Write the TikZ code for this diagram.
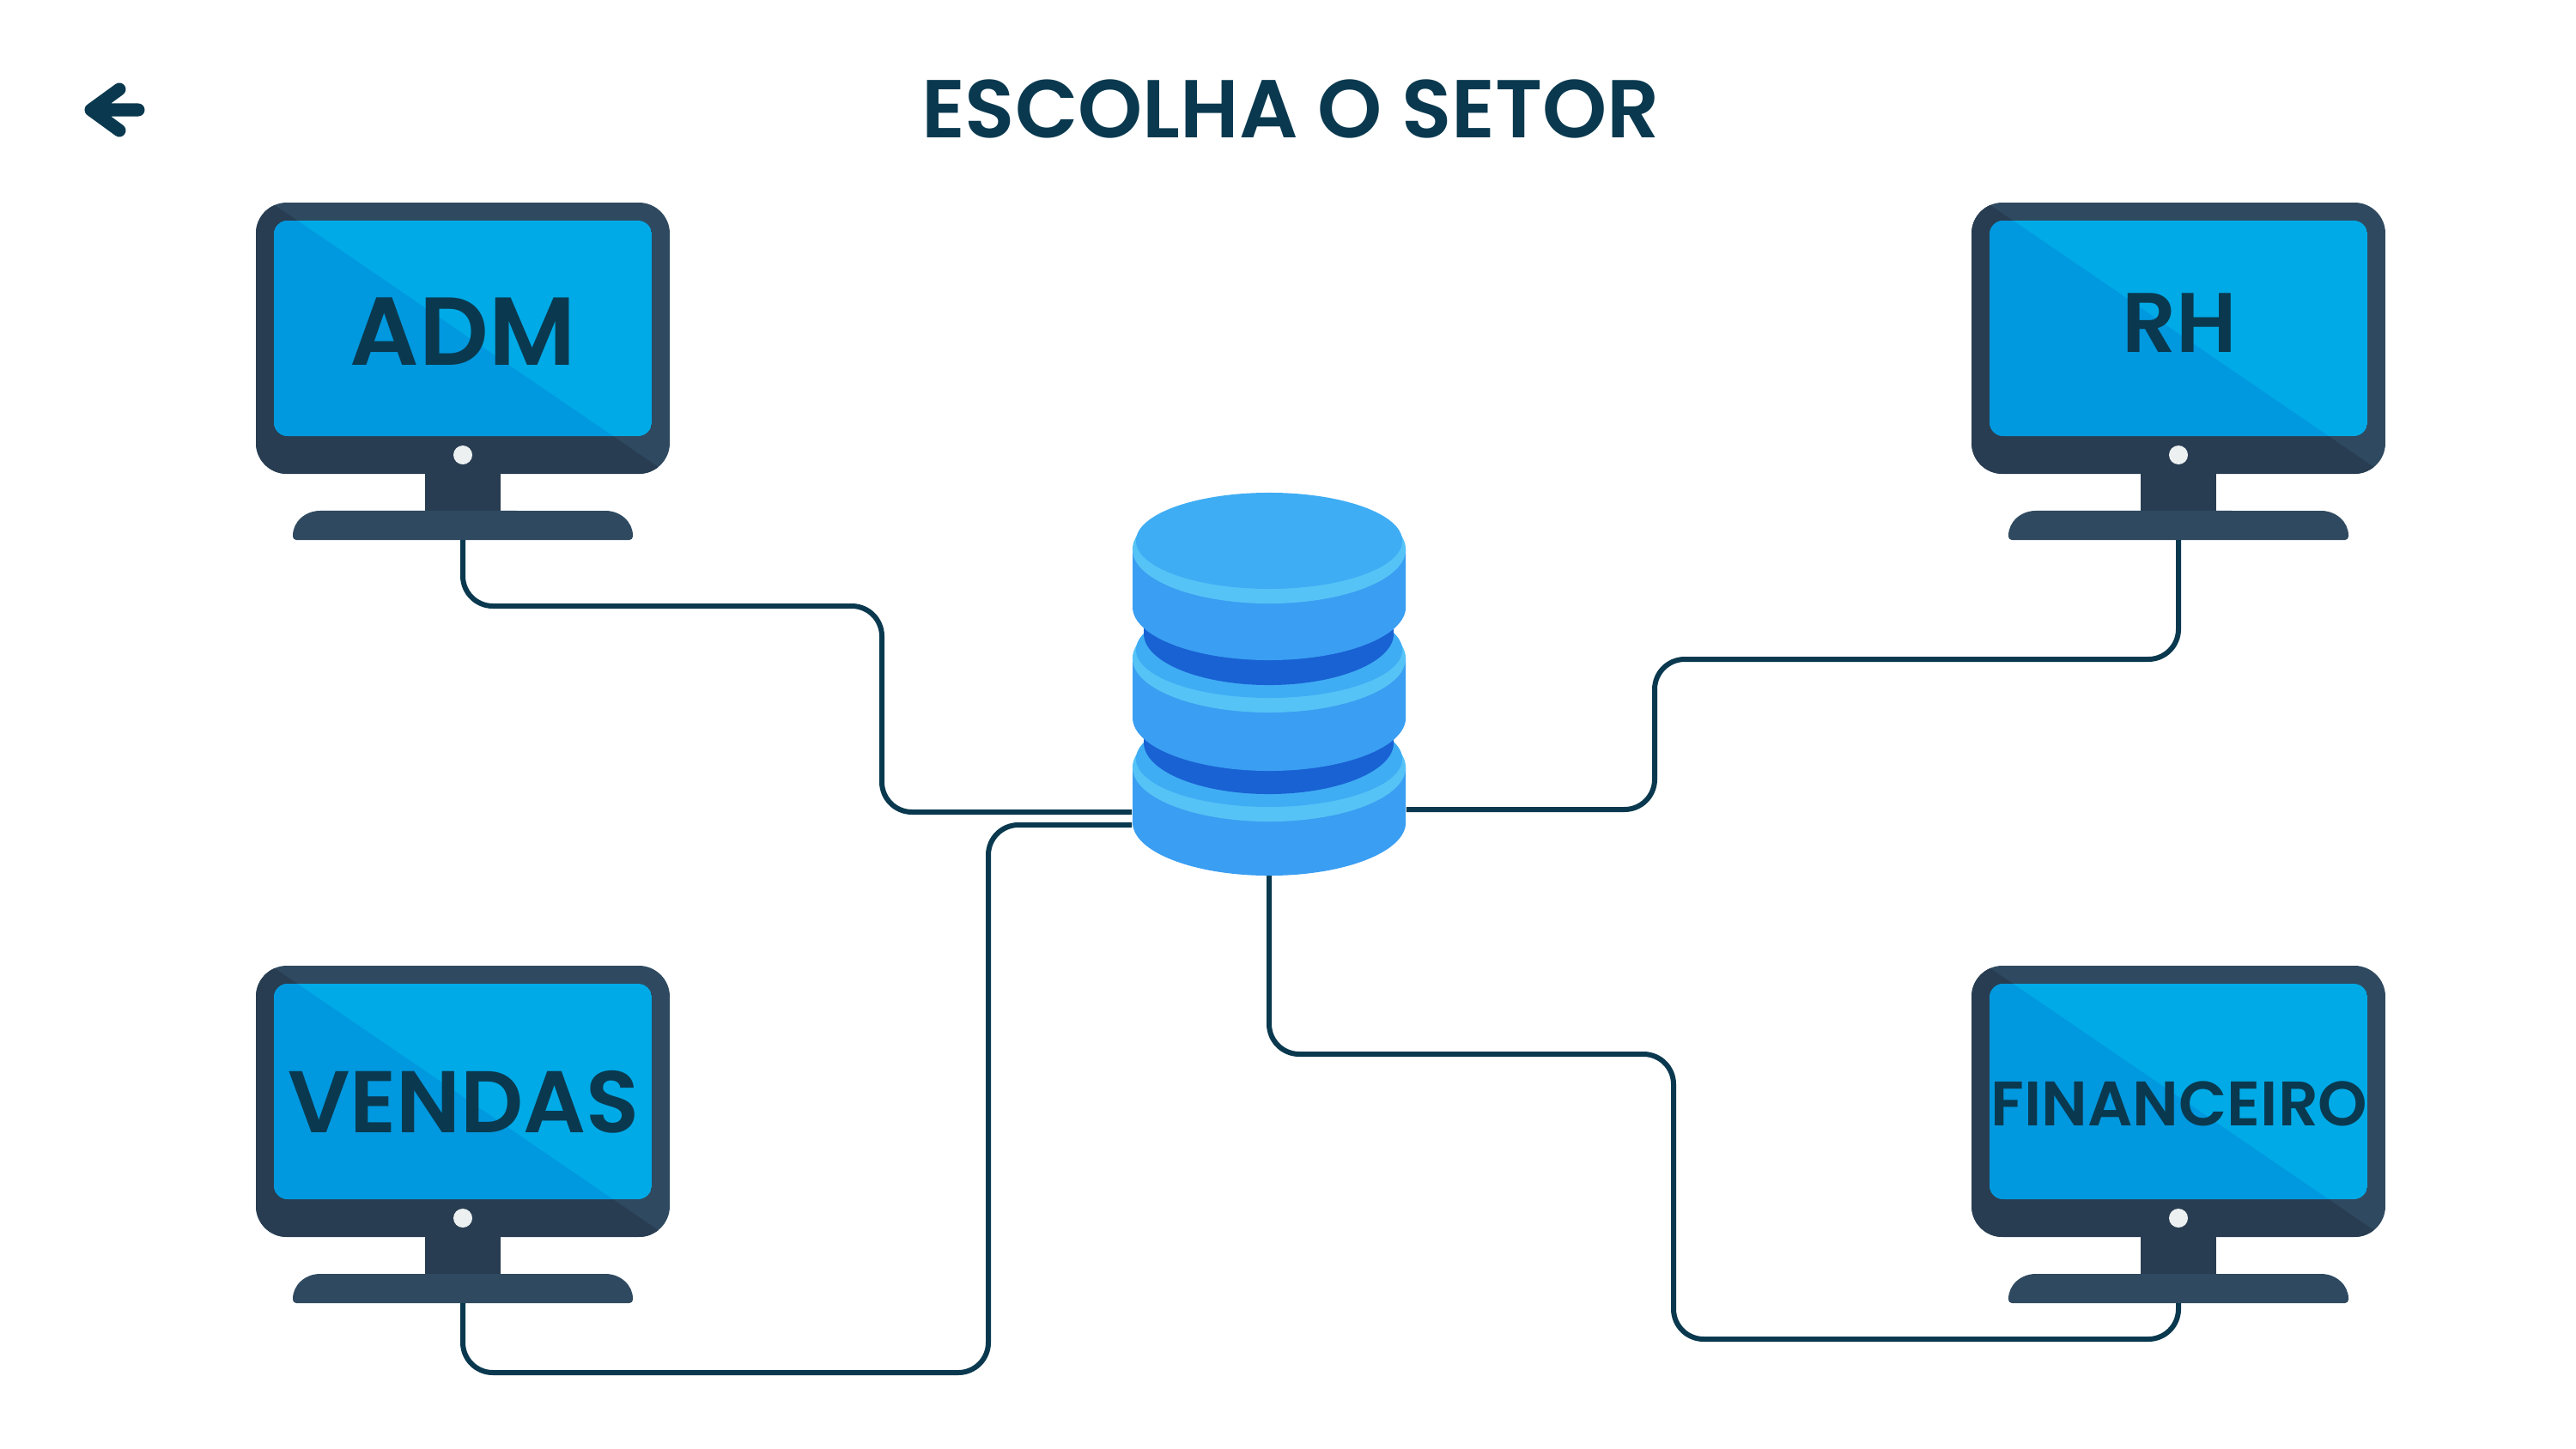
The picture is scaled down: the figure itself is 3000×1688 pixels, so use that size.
\documentclass[tikz,border=0pt]{standalone}
\usepackage{fontspec}
\setmainfont{Poppins}[BoldFont={Poppins SemiBold}]
\usetikzlibrary{positioning,calc}
\definecolor{inkblue}{RGB}{10,57,79}
\definecolor{framelight}{RGB}{47,74,96}
\definecolor{framedark}{RGB}{40,61,81}
\definecolor{screenlight}{RGB}{0,170,231}
\definecolor{screendark}{RGB}{0,152,223}
\definecolor{dotgrey}{RGB}{236,240,241}
\definecolor{dbface}{RGB}{63,173,244}
\definecolor{dbside}{RGB}{58,158,242}
\definecolor{dbrim}{RGB}{86,195,246}
\definecolor{dbband}{RGB}{25,98,211}
\tikzset{
    link/.style={draw=inkblue, line width=0.06cm, rounded corners=0.35cm},
    screenlabel/.style={text=inkblue, inner sep=0pt, font=\bfseries},
}
% one monitor: name, centre x, top y
\newcommand{\monitorbox}[3]{
    \begin{scope}[shift={(#2,#3)}]
        \begin{scope}
            \clip[rounded corners=0.36cm] (-241,0) rectangle (241,316);
            \fill[framelight] (-241,0) rectangle (241,316);
            \fill[framedark] (-241,-12) -- (270,337) -- (-241,337) -- cycle;
        \end{scope}
        \begin{scope}
            \clip[rounded corners=0.16cm] (-220,21) rectangle (220,272);
            \fill[screenlight] (-220,21) rectangle (220,272);
            \fill[screendark] (-241,-12) -- (270,337) -- (-241,337) -- cycle;
        \end{scope}
        \fill[dotgrey] (0,294) circle (0.11cm);
        \fill[framedark] (-44,316) rectangle (44,359);
        \fill[framelight] (-194,393) arc[start angle=270, end angle=180, radius=0.04cm] -- (-198,388)
            arc[start angle=180, end angle=90, x radius=0.32cm, y radius=0.29cm]
            -- (166,359) arc[start angle=90, end angle=0, x radius=0.32cm, y radius=0.29cm]
            -- (198,389) arc[start angle=0, end angle=-90, radius=0.04cm] -- cycle;
        \coordinate (#1foot) at (0,393);
    \end{scope}
}
% one disc of the database: top of its side, height of the side
\newcommand{\dbdisc}[2]{
    \fill[dbside] (1319,#1) -- ++(0,#2) arc[start angle=180, end angle=360, x radius=1.59cm, y radius=0.62cm] -- (1637,#1) -- cycle;
    \fill[dbrim] (1478,#1) ellipse[x radius=1.59cm, y radius=0.63cm];
    \fill[dbface] (1478,#1-10) ellipse[x radius=1.55cm, y radius=0.56cm];
}
\begin{document}
\begin{tikzpicture}[x=0.01cm, y=-0.01cm]
    \useasboundingbox (0,0) rectangle (3000,1688);

    % Title and back arrow
    \node[screenlabel, font=\bfseries\fontsize{27.2}{32}\selectfont] (title) at (1503,127) {ESCOLHA O SETOR};
    \draw[inkblue, line width=0.15cm, line cap=round, line join=round] (139,104) -- (106,128) -- (139,152) (106,128) -- (161,128);

    % Monitors
    \monitorbox{adm}{539}{236}
    \monitorbox{rh}{2537}{236}
    \monitorbox{vendas}{539}{1125}
    \monitorbox{fin}{2537}{1125}
    \node[screenlabel, font=\bfseries\fontsize{32}{38}\selectfont] (admlabel) at (539,386) {ADM};
    \node[screenlabel, font=\bfseries\fontsize{28}{34}\selectfont] (rhlabel) at (2538,376) {RH};
    \node[screenlabel, font=\bfseries\fontsize{29}{36}\selectfont] (vendaslabel) at (540,1284) {VENDAS};
    \node[screenlabel, font=\bfseries\fontsize{20.8}{26}\selectfont] (finlabel) at (2538,1286) {FINANCEIRO};

    % Database outline, used as anchor for the links
    \node[minimum width=3.18cm, minimum height=4.4cm, inner sep=0pt] (db) at (1478,798) {};

    % Links
    \draw[link] (admfoot) -- (admfoot |- 0,706) -- (1027,706) -- (1027,946) -- (db.west |- 0,946);
    \draw[link] (vendasfoot) -- (vendasfoot |- 0,1599) -- (1151,1599) -- (1151,961) -- (db.west |- 0,961);
    \draw[link] (rhfoot) -- (rhfoot |- 0,768) -- (1927,768) -- (1927,943) -- (db.east |- 0,943);
    \draw[link] (db.south) -- (db.south |- 0,1228) -- (1949,1228) -- (1949,1560) -- (finfoot |- 0,1560) -- (finfoot);

    % Database
    \dbdisc{894}{64}
    \fill[dbband] (1332,850) -- (1332,865) arc[start angle=180, end angle=360, x radius=1.455cm, y radius=0.6cm] -- (1623,850) -- cycle;
    \dbdisc{767}{69}
    \fill[dbband] (1332,723) -- (1332,738) arc[start angle=180, end angle=360, x radius=1.455cm, y radius=0.6cm] -- (1623,723) -- cycle;
    \dbdisc{640}{67}
\end{tikzpicture}
\end{document}
